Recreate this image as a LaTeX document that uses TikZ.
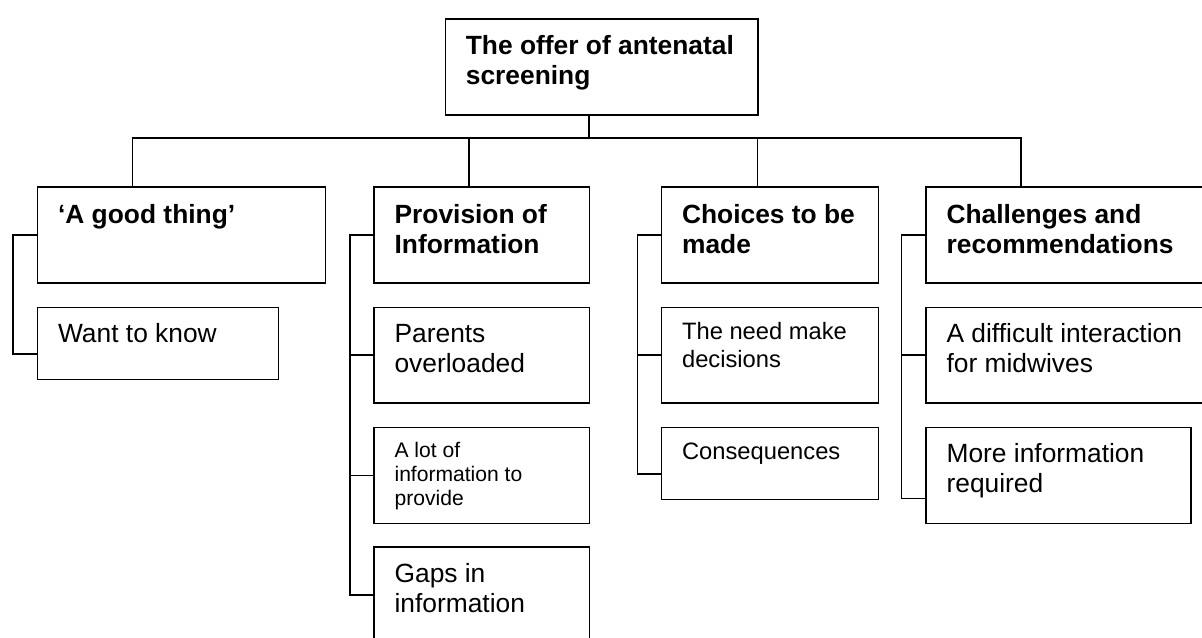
\documentclass[tikz,border=0pt]{standalone}
\usepackage{fontspec}
\setmainfont{Liberation Sans}

\begin{document}
\begin{tikzpicture}[x=0.02cm, y=-0.02cm,
  itembox/.style={draw, line width=0.9pt, anchor=north west, inner xsep=0.41cm, inner ysep=0pt, align=flush left, font=\fontsize{15}{17.2}\selectfont, execute at begin node={\hyphenpenalty=10000 }, text height=0.70cm},
  headbox/.style={itembox, font=\bfseries\fontsize{15}{17.2}\selectfont, text height=0.73cm, text depth=1.196cm},
  smallbox/.style={itembox, font=\fontsize{13.5}{15.7}\selectfont, text height=0.65cm},
  tinybox/.style={itembox, font=\fontsize{12}{13.8}\selectfont, text height=0.60cm},
  link/.style={line width=0.9pt}]
\useasboundingbox (0,0) rectangle (1202,637);

\node[headbox, text height=0.70cm, text depth=1.224cm, text width=5.436cm] (top) at (444.6,18.3) {The~offer~of~antenatal\\screening};

\node[headbox, text width=4.94cm] (good) at (36.8,186) {‘A good thing’};
\node[headbox, text width=3.49cm] (prov) at (373.3,186) {Provision of\\Information};
\node[headbox, text width=3.52cm] (choice) at (660.8,186) {Choices~to~be\\made};
\node[headbox, text width=4.75cm] (chall) at (925.3,186) {Challenges and\\recommendations};

\node[itembox, text width=4.00cm, text depth=0.738cm] (want) at (36.8,306.7) {Want to know};
\node[itembox, text width=3.49cm, text depth=1.21cm] (parents) at (373.3,306.7) {Parents\\overloaded};
\node[tinybox, text width=3.49cm, text depth=1.326cm] (alot) at (373.3,426.5) {A lot of\\information to\\provide};
\node[itembox, text width=3.49cm, text depth=1.22cm] (gaps) at (373.3,546.4) {Gaps in\\information};
\node[smallbox, text width=3.52cm, text depth=1.26cm] (needdec) at (660.8,306.7) {The need make\\decisions};
\node[smallbox, text width=3.52cm, text depth=0.79cm] (conseq) at (660.8,426.5) {Consequences};
\node[itembox, text width=4.75cm, text depth=1.21cm] (difficult) at (925.3,306.7) {A~difficult~interaction\\for midwives};
\node[itembox, text width=4.48cm, text depth=1.226cm] (more) at (925.3,426.5) {More information\\required};

\coordinate (hub) at (588.8,138);
\draw[link] (top.south -| hub) -- (hub);
\draw[link] (good.north -| 132.6,0) |- (hub) -| (chall.north -| 1021.1,0);
\foreach \n/\x in {prov/469.2, choice/757.4}
  \draw[link] (\n.north -| \x,0) -- (hub -| \x,0);

\coordinate (spineA) at (13,354);
\coordinate (spineP) at (350,0);
\coordinate (spineC) at (637.5,474);
\coordinate (spineH) at (901.4,498.5);
\draw[link] (good.west) -| (spineA) -- (want.west |- spineA);
\draw[link] (prov.west) -| (spineP |- gaps.west) -- (gaps.west);
\foreach \n in {parents,alot}
  \draw[link] (\n.west) -- (\n.west -| spineP);
\draw[link] (choice.west) -| (spineC) -- (conseq.west |- spineC);
\draw[link] (needdec.west) -- (needdec.west -| spineC);
\draw[link] (chall.west) -| (spineH) -- (more.west |- spineH);
\draw[link] (difficult.west) -- (difficult.west -| spineH);
\end{tikzpicture}
\end{document}
